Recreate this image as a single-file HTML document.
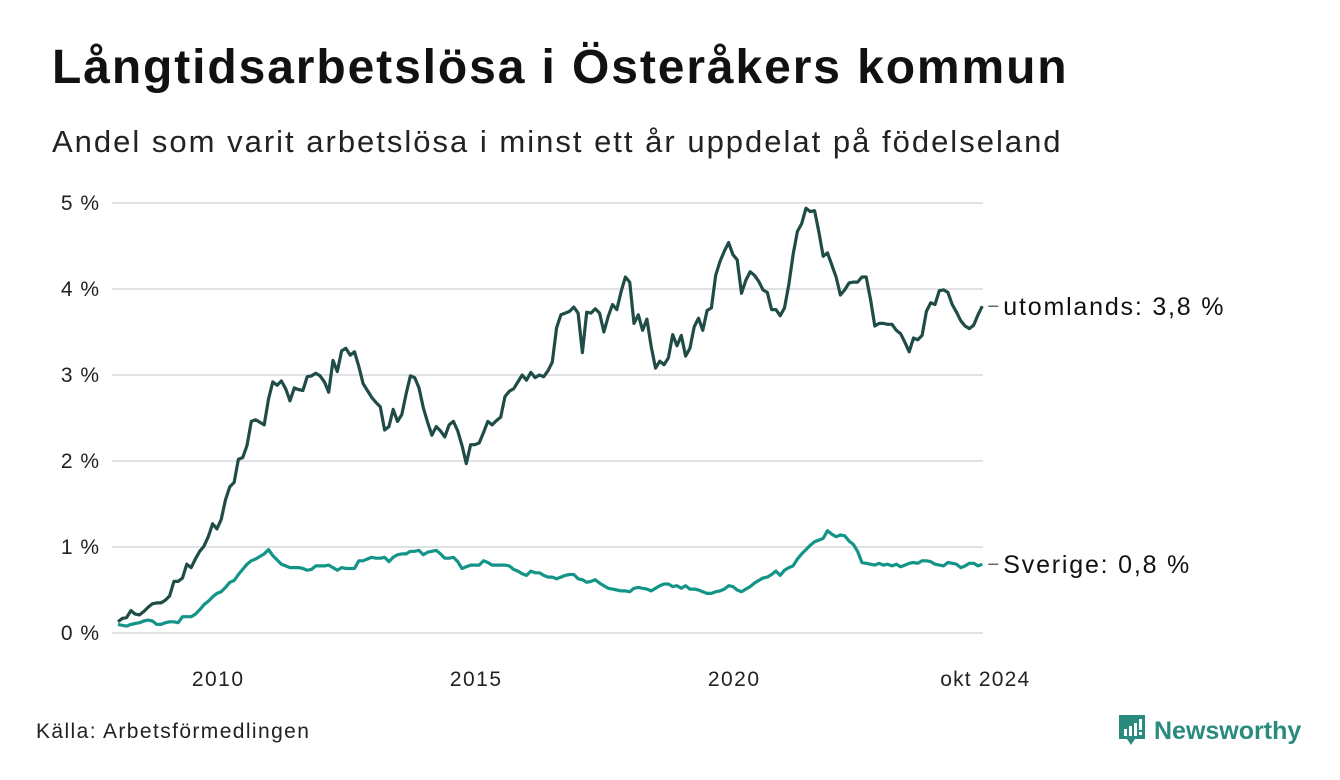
<!DOCTYPE html>
<html><head><meta charset="utf-8">
<style>
body{margin:0;background:#fff;width:1340px;height:780px;overflow:hidden;font-family:"Liberation Sans",sans-serif;color:#111}
#title{position:absolute;left:52px;top:40px;font-size:48px;font-weight:bold;margin:0;letter-spacing:1.9px}
#sub{position:absolute;left:52px;top:124px;font-size:31px;color:#222;letter-spacing:2px}
#src{position:absolute;left:36px;top:720px;font-size:21px;color:#222;letter-spacing:1.4px}
#logo{position:absolute;left:1118px;top:714px;display:flex;align-items:center}
#logo span{font-size:25px;font-weight:bold;color:#2a8a7e;margin-left:8px}
svg{position:absolute;left:0;top:0}
</style></head><body>
<h1 id="title">Långtidsarbetslösa i Österåkers kommun</h1>
<div id="sub">Andel som varit arbetslösa i minst ett år uppdelat på födelseland</div>
<div id="src">Källa: Arbetsförmedlingen</div>
<div id="logo">
<svg width="28" height="34" viewBox="0 0 28 34" style="position:static"><path d="M1 1h26v24H17l-4 6-4-6H1z" fill="#2a8a7e"/><rect x="6" y="15" width="3" height="7" fill="#fff"/><rect x="11" y="12" width="3" height="10" fill="#fff"/><rect x="16" y="9" width="3" height="13" fill="#fff"/><rect x="21" y="5" width="3" height="11" fill="#fff"/><rect x="21" y="18" width="3" height="3" fill="#fff"/></svg>
<span>Newsworthy</span></div>
<svg id="chart" width="1340" height="780"></svg>
<script>
const yTicks=[0,1,2,3,4,5];
const yTickLabels=["0 %","1 %","2 %","3 %","4 %","5 %"];
const xTicks=[2010,2015,2020];
const xTickLabels=["2010","2015","2020"];
const endLabel="okt 2024";
const startYear=2008, startMonth=0;
const utomlands=[0.13,0.17,0.18,0.26,0.22,0.21,0.25,0.30,0.34,0.35,0.35,0.38,0.43,0.60,0.60,0.64,0.80,0.76,0.86,0.95,1.01,1.12,1.27,1.21,1.32,1.55,1.70,1.75,2.02,2.04,2.18,2.46,2.48,2.45,2.42,2.72,2.92,2.88,2.93,2.84,2.70,2.85,2.83,2.82,2.98,2.99,3.02,2.99,2.92,2.80,3.17,3.04,3.28,3.31,3.23,3.27,3.10,2.90,2.82,2.74,2.68,2.63,2.36,2.40,2.60,2.46,2.54,2.78,2.99,2.97,2.85,2.62,2.45,2.30,2.40,2.35,2.28,2.42,2.46,2.35,2.18,1.97,2.19,2.19,2.21,2.33,2.46,2.42,2.47,2.51,2.75,2.81,2.84,2.92,3.00,2.94,3.03,2.97,3.00,2.98,3.05,3.15,3.55,3.70,3.72,3.74,3.79,3.72,3.26,3.73,3.72,3.77,3.72,3.50,3.68,3.82,3.76,3.97,4.14,4.08,3.60,3.70,3.52,3.65,3.33,3.08,3.16,3.12,3.20,3.47,3.34,3.46,3.22,3.31,3.56,3.66,3.52,3.75,3.78,4.16,4.32,4.44,4.54,4.40,4.34,3.95,4.10,4.20,4.16,4.09,3.99,3.96,3.76,3.76,3.69,3.78,4.05,4.40,4.67,4.76,4.94,4.90,4.91,4.66,4.38,4.42,4.28,4.14,3.93,3.99,4.07,4.08,4.08,4.14,4.14,3.88,3.57,3.60,3.60,3.59,3.59,3.52,3.48,3.38,3.27,3.43,3.41,3.46,3.74,3.84,3.82,3.98,3.99,3.96,3.82,3.73,3.63,3.57,3.54,3.58,3.70,3.80];
const sverige=[0.10,0.09,0.08,0.10,0.11,0.12,0.14,0.15,0.14,0.10,0.10,0.12,0.13,0.13,0.12,0.19,0.19,0.19,0.22,0.27,0.33,0.37,0.42,0.46,0.48,0.53,0.59,0.61,0.68,0.74,0.80,0.84,0.86,0.89,0.92,0.97,0.90,0.85,0.80,0.78,0.76,0.76,0.76,0.75,0.73,0.74,0.78,0.78,0.78,0.79,0.76,0.73,0.76,0.75,0.75,0.75,0.84,0.84,0.86,0.88,0.87,0.87,0.88,0.83,0.88,0.91,0.92,0.92,0.95,0.95,0.96,0.91,0.94,0.95,0.96,0.92,0.87,0.87,0.88,0.83,0.75,0.77,0.79,0.79,0.79,0.84,0.82,0.79,0.79,0.79,0.79,0.78,0.74,0.72,0.69,0.67,0.72,0.70,0.70,0.67,0.65,0.65,0.63,0.65,0.67,0.68,0.68,0.63,0.62,0.59,0.60,0.62,0.58,0.55,0.52,0.51,0.50,0.49,0.49,0.48,0.52,0.53,0.52,0.51,0.49,0.52,0.55,0.57,0.57,0.54,0.55,0.52,0.55,0.51,0.51,0.50,0.48,0.46,0.46,0.48,0.49,0.51,0.55,0.54,0.50,0.48,0.51,0.54,0.58,0.61,0.64,0.65,0.68,0.72,0.67,0.73,0.76,0.78,0.86,0.92,0.97,1.02,1.06,1.08,1.10,1.19,1.15,1.12,1.14,1.13,1.07,1.03,0.95,0.82,0.81,0.80,0.79,0.81,0.79,0.80,0.78,0.80,0.77,0.79,0.81,0.82,0.81,0.84,0.84,0.83,0.80,0.79,0.78,0.82,0.81,0.80,0.76,0.78,0.81,0.81,0.78,0.80];
const fmt=v=>v.toFixed(1).replace('.',',')+' %';
const NS='http://www.w3.org/2000/svg';
const svg=document.getElementById('chart');
const X0=118, PXY=51.6, Y0=633, PXV=86;
const xYear=t=>X0+(t-(startYear+startMonth/12))*PXY;
const xIdx=i=>xYear(startYear+(startMonth+i)/12);
const y=v=>Y0-v*PXV;
function mk(tag,attrs){const e=document.createElementNS(NS,tag);for(const k in attrs)e.setAttribute(k,attrs[k]);svg.appendChild(e);return e;}
yTicks.forEach((t,k)=>{
 const g=mk('line',{x1:112,x2:983,y1:y(t),y2:y(t),stroke:'#e2e2e6','stroke-width':2});
 
 
 const l=mk('text',{x:100,y:y(t)+7,'text-anchor':'end','font-size':21,'letter-spacing':1,fill:'#222','font-family':'Liberation Sans, sans-serif'});
 l.textContent=yTickLabels[k];
 
 
});
xTicks.forEach((t,k)=>{
 const l=mk('text',{x:xYear(t)-3,y:686,'text-anchor':'middle','font-size':21,'letter-spacing':1.5,fill:'#222','font-family':'Liberation Sans, sans-serif'});
 l.textContent=xTickLabels[k];
 
 
});
const n=utomlands.length-1;
const el=mk('text',{x:xIdx(n)+3,y:686,'text-anchor':'middle','font-size':21,'letter-spacing':1.2,fill:'#222','font-family':'Liberation Sans, sans-serif'});
el.textContent=endLabel;


function series(vals,color,name,label){
 const d=vals.map((v,i)=>(i?'L':'M')+xIdx(i).toFixed(1)+' '+y(v).toFixed(1)).join('');
 const p=mk('path',{d:d,fill:'none',stroke:color,'stroke-width':3.2,'stroke-linejoin':'round'});
 
 
 const last=vals[vals.length-1], lx=xIdx(vals.length-1);
 const tk=mk('line',{x1:lx+6,x2:lx+16,y1:y(last),y2:y(last),stroke:'#444','stroke-width':1.2});
 
 
 const t=mk('text',{x:lx+21,y:y(last)+9,'font-size':25,'letter-spacing':1.8,fill:'#111','font-family':'Liberation Sans, sans-serif'});
 t.textContent=label+': '+fmt(last);
 
 
}
series(sverige,'#139488','sverige','Sverige');
series(utomlands,'#1f4c46','utomlands','utomlands');
</script>
</body></html>
